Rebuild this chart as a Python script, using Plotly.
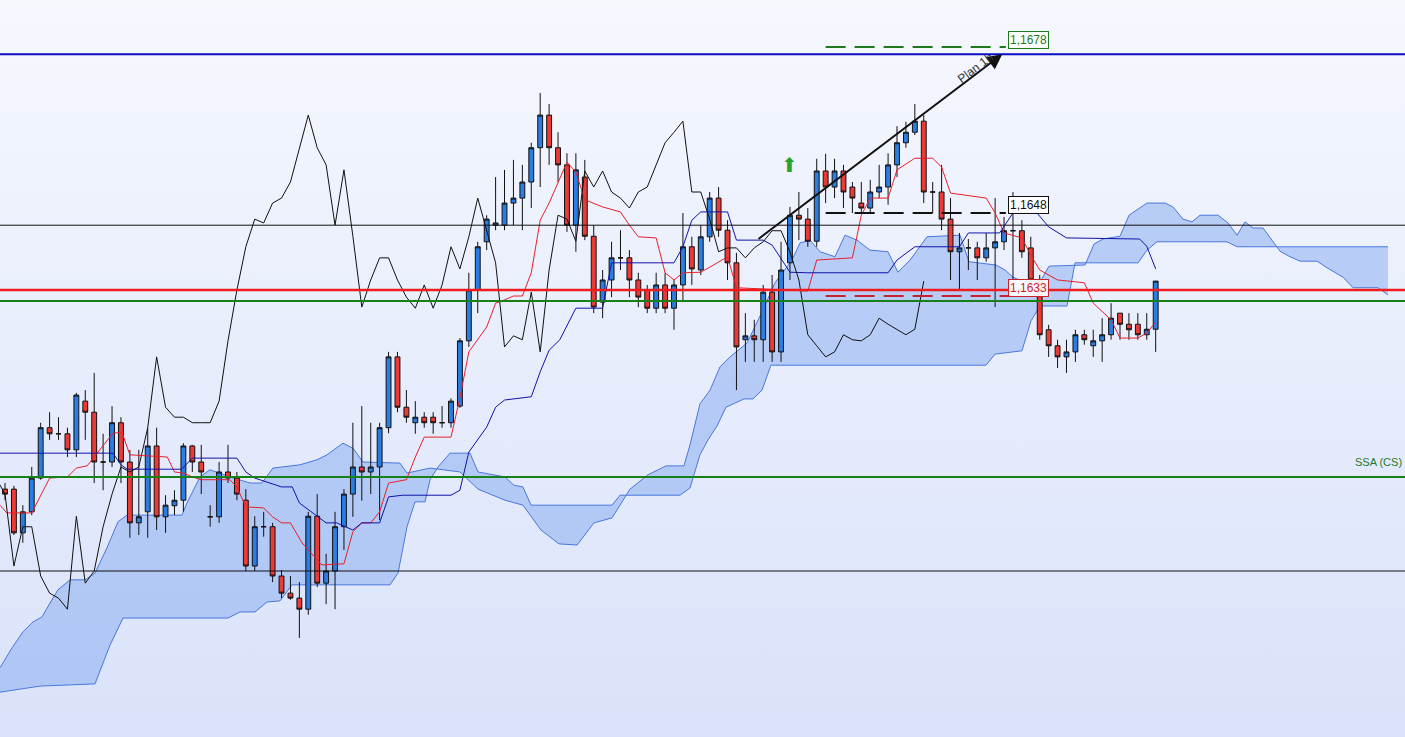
import base64
import plotly.graph_objects as go

# ---------------- candle data (EURUSD-like, 1h) ----------------
candle_open = [1.15981,1.15981,1.15902,1.15940,1.16001,1.16092,1.16081,1.16081,1.16052,1.16140,
1.16120,1.16030,1.16030,1.16101,1.16030,1.15920,1.15940,1.16059,1.15931,1.15951,
1.15961,1.16059,1.16030,1.15931,1.15931,1.16012,1.16001,1.15961,1.15842,1.15913,
1.15913,1.15824,1.15793,1.15784,1.15764,1.15932,1.15811,1.15833,1.15913,1.15972,
1.16021,1.16012,1.16021,1.16092,1.16220,1.16129,1.16101,1.16111,1.16111,1.16101,
1.16101,1.16131,1.16249,1.16341,1.16428,1.16458,1.16458,1.16498,1.16507,1.16536,
1.16598,1.16657,1.16598,1.16567,1.16458,1.16545,1.16438,1.16319,1.16359,1.16399,
1.16399,1.16359,1.16341,1.16308,1.16350,1.16308,1.16350,1.16419,1.16377,1.16437,
1.16507,1.16449,1.16390,1.16251,1.16258,1.16251,1.16337,1.16229,1.16390,1.16476,
1.16469,1.16429,1.16556,1.16527,1.16556,1.16527,1.16498,1.16489,1.16518,1.16527,
1.16567,1.16607,1.16626,1.16646,1.16518,1.16518,1.16469,1.16410,1.16417,1.16417,
1.16399,1.16417,1.16428,1.16448,1.16448,1.16417,1.16359,1.16269,1.16240,1.16220,
1.16229,1.16260,1.16240,1.16249,1.16260,1.16299,1.16279,1.16279,1.16260,1.16270]
candle_high = [1.15992,1.15987,1.15952,1.16021,1.16101,1.16120,1.16111,1.16092,1.16155,1.16160,
1.16191,1.16081,1.16131,1.16111,1.16052,1.16052,1.16092,1.16092,1.15970,1.15979,
1.16064,1.16061,1.16061,1.15952,1.16030,1.16061,1.16012,1.15981,1.15932,1.15940,
1.15920,1.15835,1.15824,1.15813,1.15940,1.15972,1.15864,1.15940,1.15981,1.16101,
1.16131,1.16101,1.16101,1.16229,1.16229,1.16160,1.16140,1.16120,1.16120,1.16131,
1.16145,1.16254,1.16372,1.16428,1.16476,1.16545,1.16558,1.16576,1.16567,1.16607,
1.16697,1.16677,1.16626,1.16588,1.16588,1.16576,1.16458,1.16377,1.16428,1.16449,
1.16413,1.16372,1.16350,1.16372,1.16372,1.16359,1.16480,1.16437,1.16458,1.16518,
1.16527,1.16467,1.16408,1.16299,1.16287,1.16350,1.16368,1.16428,1.16491,1.16518,
1.16489,1.16578,1.16587,1.16578,1.16567,1.16536,1.16536,1.16540,1.16567,1.16588,
1.16637,1.16645,1.16677,1.16657,1.16536,1.16567,1.16507,1.16444,1.16433,1.16428,
1.16444,1.16507,1.16473,1.16518,1.16467,1.16437,1.16368,1.16278,1.16251,1.16251,
1.16269,1.16269,1.16269,1.16290,1.16317,1.16299,1.16299,1.16299,1.16299,1.16357]
candle_low = [1.15961,1.15898,1.15884,1.15934,1.15998,1.16070,1.16070,1.16039,1.16039,1.16070,
1.15992,1.15979,1.16021,1.15992,1.15893,1.15898,1.15893,1.15907,1.15902,1.15934,
1.15940,1.16012,1.15972,1.15913,1.15920,1.15992,1.15961,1.15833,1.15833,1.15895,
1.15813,1.15784,1.15781,1.15712,1.15754,1.15804,1.15773,1.15764,1.15871,1.15931,
1.15960,1.15972,1.15925,1.16082,1.16120,1.16101,1.16081,1.16092,1.16081,1.16092,
1.16092,1.16128,1.16238,1.16299,1.16413,1.16449,1.16449,1.16458,1.16449,1.16489,
1.16527,1.16567,1.16536,1.16446,1.16410,1.16431,1.16299,1.16290,1.16328,1.16377,
1.16328,1.16310,1.16299,1.16299,1.16299,1.16269,1.16319,1.16350,1.16368,1.16428,
1.16437,1.16359,1.16160,1.16211,1.16211,1.16211,1.16211,1.16211,1.16359,1.16431,
1.16419,1.16419,1.16498,1.16507,1.16489,1.16480,1.16480,1.16480,1.16507,1.16495,
1.16545,1.16598,1.16621,1.16498,1.16480,1.16449,1.16359,1.16341,1.16377,1.16359,
1.16392,1.16310,1.16413,1.16359,1.16399,1.16341,1.16251,1.16220,1.16200,1.16191,
1.16211,1.16242,1.16220,1.16211,1.16251,1.16251,1.16251,1.16251,1.16251,1.16229]
candle_close = [1.15972,1.15902,1.15940,1.16001,1.16092,1.16081,1.16081,1.16052,1.16151,1.16120,
1.16030,1.16030,1.16101,1.16030,1.15920,1.15931,1.16059,1.15931,1.15952,1.15961,
1.16059,1.16030,1.16012,1.15931,1.16012,1.16001,1.15972,1.15842,1.15913,1.15913,
1.15824,1.15793,1.15784,1.15764,1.15932,1.15811,1.15833,1.15913,1.15972,1.16021,
1.16012,1.16021,1.16092,1.16220,1.16129,1.16111,1.16111,1.16101,1.16101,1.16101,
1.16140,1.16249,1.16341,1.16419,1.16469,1.16462,1.16498,1.16507,1.16536,1.16598,
1.16657,1.16598,1.16567,1.16458,1.16558,1.16438,1.16310,1.16359,1.16399,1.16399,
1.16359,1.16328,1.16308,1.16350,1.16308,1.16350,1.16419,1.16379,1.16437,1.16507,
1.16449,1.16390,1.16238,1.16258,1.16251,1.16337,1.16229,1.16377,1.16476,1.16469,
1.16429,1.16556,1.16527,1.16556,1.16518,1.16507,1.16489,1.16518,1.16527,1.16567,
1.16607,1.16626,1.16646,1.16518,1.16518,1.16469,1.16410,1.16417,1.16417,1.16399,
1.16417,1.16428,1.16448,1.16448,1.16410,1.16359,1.16260,1.16240,1.16220,1.16229,
1.16260,1.16251,1.16249,1.16260,1.16290,1.16279,1.16269,1.16260,1.16270,1.16357]
bar_index = list(range(len(candle_close)))
CHIKOU_SHIFT = 26

# ---------------- Ichimoku lines (bar index, price) ----------------
tenkan_x = [-0.56,0.2,3,4.15,5,7,8,9.2,10.3,12.1,13.1,14,18.2,19,20,21,22,25.2,26,27,29,30,31,32,33.3,35,35.5,38,39,40,41,42,43,45,46,47,50,51,52,54,55,56,57,58,59,60,61,63,64,65,67,69,70,71,73,74,75,76,78,79,80,81,82,88,90,91,95,96,97,99,100,102,104,105,106,110,111,112,114,115,116,118,121,122,124,125,127,128,129]
tenkan_y = [1.15952,1.15938,1.15938,1.15974,1.16001,1.16003,1.16019,1.16023,1.16046,1.16082,1.16084,1.16043,1.16039,1.16012,1.16010,1.16003,1.15998,1.15998,1.15985,1.15949,1.15947,1.15931,1.15920,1.15920,1.15884,1.15853,1.15844,1.15846,1.15904,1.15920,1.15920,1.15940,1.15992,1.15998,1.16039,1.16075,1.16075,1.16146,1.16229,1.16274,1.16317,1.16323,1.16330,1.16330,1.16372,1.16467,1.16498,1.16572,1.16554,1.16504,1.16491,1.16482,1.16458,1.16437,1.16435,1.16372,1.16359,1.16372,1.16373,1.16382,1.16392,1.16401,1.16345,1.16341,1.16339,1.16395,1.16399,1.16476,1.16507,1.16507,1.16558,1.16579,1.16579,1.16563,1.16516,1.16507,1.16480,1.16444,1.16435,1.16404,1.16377,1.16359,1.16354,1.16317,1.16287,1.16254,1.16254,1.16263,1.16283]

kijun_x = [-0.56,12.1,13,13.7,19.8,21,26,27,28,31,32.2,33,36,37.2,39,40,42,43,44.6,50,51,52,54,55,56,59,60,61,62.2,64,67,68,75,76,77,78,81,82,85,86,88,90,99,100,102,107,108,111.5,113,115.7,117,119,127.2,128,129]
kijun_y = [1.16046,1.16046,1.16025,1.16017,1.16017,1.16037,1.16037,1.16012,1.16001,1.15985,1.15985,1.15956,1.15920,1.15920,1.15907,1.15920,1.15920,1.15967,1.15970,1.15970,1.15979,1.16048,1.16093,1.16129,1.16142,1.16148,1.16193,1.16232,1.16251,1.16308,1.16308,1.16390,1.16390,1.16419,1.16467,1.16482,1.16482,1.16431,1.16431,1.16422,1.16373,1.16372,1.16372,1.16395,1.16419,1.16419,1.16444,1.16444,1.16480,1.16480,1.16455,1.16435,1.16433,1.16420,1.16379]

span_a_x = [-0.56,0.78,2.02,3.14,4.15,5.04,5.94,7.29,8.97,10.09,11.43,12.67,13.68,19.84,20.40,21.86,22.98,25.22,27.47,28.81,30.04,33.07,34.98,36.10,37.89,39.01,40.13,44.28,45.07,47.65,51.01,53.03,56.05,58.07,60.09,62.11,64.13,66.03,68.05,70.07,72.09,74.10,76.12,76.79,77.91,79.04,80.16,81.28,83.18,84.98,86.32,87.22,88.23,89.13,90.25,91.37,93.05,94.17,95.52,96.97,98.99,100.11,101.46,103.36,107.06,108.07,111.10,112.11,113.00,114.01,116.03,117.04,121.08,122.09,123.09,125.00,126.01,127.02,128.03,130.04,130.94,132.06,133.07,133.97,135.99,137.11,138.12,139.01,139.91,141.03,142.94,144.06,145.18,147.09,148.21,150.00,151.12,153.92,155.04]
span_a_y = [1.15658,1.15694,1.15723,1.15741,1.15750,1.15775,1.15799,1.15817,1.15817,1.15829,1.15875,1.15922,1.15934,1.15934,1.15956,1.16003,1.16016,1.16003,1.15992,1.15992,1.16019,1.16025,1.16034,1.16043,1.16064,1.16055,1.16030,1.16028,1.16010,1.16019,1.16012,1.15981,1.15961,1.15952,1.15907,1.15882,1.15880,1.15920,1.15929,1.15981,1.16007,1.16023,1.16023,1.16061,1.16135,1.16160,1.16202,1.16220,1.16245,1.16305,1.16354,1.16373,1.16395,1.16426,1.16431,1.16410,1.16401,1.16440,1.16431,1.16413,1.16410,1.16373,1.16395,1.16437,1.16440,1.16392,1.16386,1.16377,1.16364,1.16357,1.16355,1.16384,1.16386,1.16424,1.16433,1.16438,1.16476,1.16487,1.16498,1.16498,1.16491,1.16469,1.16464,1.16476,1.16476,1.16462,1.16440,1.16464,1.16453,1.16453,1.16411,1.16401,1.16393,1.16393,1.16381,1.16364,1.16345,1.16345,1.16332]

span_b_x = [-0.56,3.92,10.09,11.77,13.23,25.0,26.35,28.03,29.37,30.83,32.17,43.16,44.06,45.07,45.96,47.09,47.65,48.54,49.89,52.13,53.03,56.05,57.06,58.07,58.97,68.05,68.95,75.67,76.79,77.91,78.81,79.82,80.83,82.85,83.86,84.87,85.87,109.98,110.99,114.01,115.02,116.03,119.06,119.96,127.02,128.03,129.15,137.0,138.12,155.04]
span_b_y = [1.15614,1.15625,1.15629,1.15699,1.15748,1.15748,1.15759,1.15759,1.15777,1.15779,1.15808,1.15808,1.15829,1.15913,1.15958,1.15958,1.15998,1.16021,1.16046,1.16046,1.16012,1.16003,1.15988,1.15985,1.15952,1.15952,1.15970,1.15970,1.15983,1.16043,1.16070,1.16095,1.16129,1.16144,1.16144,1.16160,1.16205,1.16205,1.16225,1.16231,1.16285,1.16312,1.16312,1.16390,1.16390,1.16413,1.16428,1.16428,1.16419,1.16419]

# ---------------- levels ----------------
full_levels = [1.16767, 1.16458, 1.16341, 1.16321, 1.16003, 1.15833]
full_colors = ["#0b0bc8", "#111111", "#ee1c1c", "#178017", "#178017", "#111111"]
full_widths = [2, 1, 2.5, 2, 2, 1]
target_levels = [1.1678, 1.1648, 1.1633]
target_labels = ["1,1678", "1,1648", "1,1633"]
target_colors = ["#1f7a1f", "#111111", "#c8232c"]
ssa_label = "SSA (CS)"
ssa_level = 1.16016

X_RANGE = [-0.56, 156.95]
Y_RANGE = [1.15533, 1.16865]


def path_from(xs, ys, close=False):
    pts = " L ".join(f"{x},{y}" for x, y in zip(xs, ys))
    return "M " + pts + (" Z" if close else "")


fig = go.Figure()

# candles (box layer)
fig.add_trace(go.Candlestick(
    x=bar_index, open=candle_open, high=candle_high, low=candle_low, close=candle_close,
    increasing=dict(fillcolor="#2a7de3", line=dict(color="#111111", width=1)),
    decreasing=dict(fillcolor="#ec3a37", line=dict(color="#111111", width=1)),
    whiskerwidth=0, showlegend=False, hoverinfo="skip"))

# tenkan / kijun / chikou
fig.add_trace(go.Scatter(x=tenkan_x, y=tenkan_y, mode="lines",
                         line=dict(color="#e8202a", width=1), hoverinfo="skip", showlegend=False))
fig.add_trace(go.Scatter(x=kijun_x, y=kijun_y, mode="lines",
                         line=dict(color="#1212a8", width=1), hoverinfo="skip", showlegend=False))
fig.add_trace(go.Scatter(x=[i - CHIKOU_SHIFT for i in bar_index], y=candle_close, mode="lines",
                         line=dict(color="#111111", width=1), hoverinfo="skip", showlegend=False))

shapes = []
# kumo cloud (below traces)
shapes.append(dict(type="path", xref="x", yref="y", layer="below",
                   path=path_from(span_a_x + span_b_x[::-1], span_a_y + span_b_y[::-1], close=True),
                   fillcolor="rgba(140,175,240,0.55)", line=dict(width=0)))
for sx, sy in [(span_a_x, span_a_y), (span_b_x, span_b_y)]:
    shapes.append(dict(type="path", xref="x", yref="y", layer="below",
                       path=path_from(sx, sy), line=dict(color="#4a77dc", width=1)))

for lv, c, w in zip(full_levels, full_colors, full_widths):
    shapes.append(dict(type="line", xref="paper", x0=0, x1=1, yref="y", y0=lv, y1=lv,
                       line=dict(color=c, width=w), layer="above"))
dash_ends = [112.2, 112.2, 113.0]
for lv, c, xe in zip(target_levels, target_colors, dash_ends):
    shapes.append(dict(type="line", xref="x", x0=92, x1=xe, yref="y", y0=lv, y1=lv,
                       line=dict(color=c, width=2, dash="20px,9px"), layer="above"))

annotations = []
label_y = [1.16793, 1.16495, 1.16345]
for txt, c, ly in zip(target_labels, target_colors, label_y):
    annotations.append(dict(x=114.7, y=ly, text=txt, showarrow=False,
                            font=dict(family="Liberation Sans, Arial", size=12, color=c),
                            bgcolor="rgba(255,255,255,0.92)", bordercolor=c, borderwidth=1,
                            borderpad=1))
annotations.append(dict(x=0.999, xref="paper", y=ssa_level, text=ssa_label, showarrow=False,
                        xanchor="right", yanchor="bottom",
                        font=dict(family="Liberation Sans, Arial", size=11, color="#1f7a1f")))
# plan arrow
annotations.append(dict(x=111.8, y=1.16767, ax=84.3, ay=1.16431, axref="x", ayref="y",
                        xref="x", yref="y", text="", showarrow=True, arrowhead=2,
                        arrowsize=1.5, arrowwidth=2, arrowcolor="#111111", standoff=0))
annotations.append(dict(x=108.8, y=1.16742, text="Plan 1h", showarrow=False, textangle=-37,
                        font=dict(family="Liberation Sans, Arial", size=12, color="#333333")))
# green signal arrow
annotations.append(dict(x=88, y=1.16567, text="⬆", showarrow=False,
                        font=dict(family="DejaVu Sans", size=20, color="#2aa12a")))

# background gradient as an SVG image
svg = ("<svg xmlns='http://www.w3.org/2000/svg' width='10' height='100' preserveAspectRatio='none'>"
       "<defs><linearGradient id='g' x1='0' y1='0' x2='0' y2='1'>"
       "<stop offset='0' stop-color='#f6f8fe'/><stop offset='1' stop-color='#d9e2fa'/>"
       "</linearGradient></defs><rect width='10' height='100' fill='url(#g)'/></svg>")
bg_src = "data:image/svg+xml;base64," + base64.b64encode(svg.encode()).decode()

fig.update_layout(
    width=1405, height=737, margin=dict(l=0, r=0, t=0, b=0),
    paper_bgcolor="#eaf0fd", plot_bgcolor="#eaf0fd", boxgap=0.22,
    xaxis=dict(range=X_RANGE, visible=False, rangeslider=dict(visible=False), fixedrange=True),
    yaxis=dict(range=Y_RANGE, visible=False, fixedrange=True),
    shapes=shapes, annotations=annotations, showlegend=False,
    images=[dict(source=bg_src, xref="paper", yref="paper", x=0, y=1, sizex=1, sizey=1,
                 xanchor="left", yanchor="top", sizing="stretch", layer="below")],
)

fig.write_html("out.html", config={"displayModeBar": False},
               post_script="document.body.style.margin='0';document.body.style.overflow='hidden';")
